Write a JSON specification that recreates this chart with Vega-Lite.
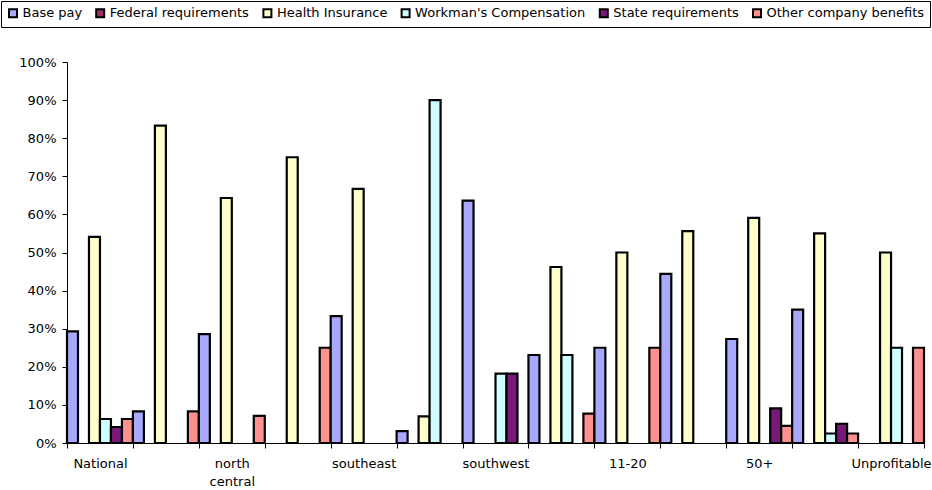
{
  "$schema": "https://vega.github.io/schema/vega-lite/v6.json",
  "width": 857,
  "height": 381,
  "autosize": {"type": "none"},
  "padding": {"left": 67, "top": 62, "right": 8, "bottom": 47},
  "background": "white",
  "config": {
    "view": {"stroke": null},
    "font": "DejaVu Sans",
    "axis": {"labelFont": "DejaVu Sans", "labelFontSize": 13, "labelColor": "#000", "domainColor": "#000", "tickColor": "#000", "grid": false, "title": null},
    "legend": {"labelFont": "DejaVu Sans"}
  },
  "data": {
    "values": [
      {"group": "National", "item": "Base pay", "share": 0.293},
      {"group": "National", "item": "Health Insurance", "share": 0.541},
      {"group": "National", "item": "Workman's Compensation", "share": 0.063},
      {"group": "National", "item": "State requirements", "share": 0.042},
      {"group": "National", "item": "Other company benefits", "share": 0.063},
      {"group": "northeast", "item": "Base pay", "share": 0.083},
      {"group": "northeast", "item": "Health Insurance", "share": 0.833},
      {"group": "northeast", "item": "Other company benefits", "share": 0.083},
      {"group": "north central", "item": "Base pay", "share": 0.286},
      {"group": "north central", "item": "Health Insurance", "share": 0.643},
      {"group": "north central", "item": "Other company benefits", "share": 0.071},
      {"group": "northwest", "item": "Health Insurance", "share": 0.75},
      {"group": "northwest", "item": "Other company benefits", "share": 0.25},
      {"group": "southeast", "item": "Base pay", "share": 0.333},
      {"group": "southeast", "item": "Health Insurance", "share": 0.667},
      {"group": "south central", "item": "Base pay", "share": 0.031},
      {"group": "south central", "item": "Health Insurance", "share": 0.07},
      {"group": "south central", "item": "Workman's Compensation", "share": 0.9},
      {"group": "southwest", "item": "Base pay", "share": 0.636},
      {"group": "southwest", "item": "Workman's Compensation", "share": 0.182},
      {"group": "southwest", "item": "State requirements", "share": 0.182},
      {"group": "1-10", "item": "Base pay", "share": 0.231},
      {"group": "1-10", "item": "Health Insurance", "share": 0.462},
      {"group": "1-10", "item": "Workman's Compensation", "share": 0.231},
      {"group": "1-10", "item": "Other company benefits", "share": 0.077},
      {"group": "11-20", "item": "Base pay", "share": 0.25},
      {"group": "11-20", "item": "Health Insurance", "share": 0.5},
      {"group": "11-20", "item": "Other company benefits", "share": 0.25},
      {"group": "21-50", "item": "Base pay", "share": 0.444},
      {"group": "21-50", "item": "Health Insurance", "share": 0.556},
      {"group": "50+", "item": "Base pay", "share": 0.273},
      {"group": "50+", "item": "Health Insurance", "share": 0.591},
      {"group": "50+", "item": "State requirements", "share": 0.091},
      {"group": "50+", "item": "Other company benefits", "share": 0.045},
      {"group": "Profitable", "item": "Base pay", "share": 0.35},
      {"group": "Profitable", "item": "Health Insurance", "share": 0.55},
      {"group": "Profitable", "item": "Workman's Compensation", "share": 0.025},
      {"group": "Profitable", "item": "State requirements", "share": 0.05},
      {"group": "Profitable", "item": "Other company benefits", "share": 0.025},
      {"group": "Unprofitable", "item": "Health Insurance", "share": 0.5},
      {"group": "Unprofitable", "item": "Workman's Compensation", "share": 0.25},
      {"group": "Unprofitable", "item": "Other company benefits", "share": 0.25}
    ]
  },
  "mark": {"type": "bar", "stroke": "#000", "strokeWidth": 2.2},
  "encoding": {
    "x": {
      "field": "group",
      "type": "nominal",
      "sort": ["National", "northeast", "north central", "northwest", "southeast", "south central", "southwest", "1-10", "11-20", "21-50", "50+", "Profitable", "Unprofitable"],
      "scale": {"paddingInner": 0, "paddingOuter": 0},
      "axis": {
        "labelAngle": 0,
        "tickBand": "extent",
        "tickSize": 5,
        "labelPadding": 9,
        "labelExpr": "indexof(['National','north central','southeast','southwest','11-20','50+','Unprofitable'], datum.label) < 0 ? '' : split(datum.label, ' ')",
        "labelLineHeight": 18
      }
    },
    "xOffset": {
      "field": "item",
      "type": "nominal",
      "scale": {"domain": ["Base pay", "Federal requirements", "Health Insurance", "Workman's Compensation", "State requirements", "Other company benefits"], "paddingInner": 0, "paddingOuter": 0}
    },
    "y": {
      "field": "share",
      "type": "quantitative",
      "scale": {"domain": [0, 1], "nice": false},
      "axis": {"format": ".0%", "values": [0, 0.1, 0.2, 0.3, 0.4, 0.5, 0.6, 0.7, 0.8, 0.9, 1], "tickSize": 5, "labelPadding": 6}
    },
    "color": {
      "field": "item",
      "type": "nominal",
      "scale": {
        "domain": ["Base pay", "Federal requirements", "Health Insurance", "Workman's Compensation", "State requirements", "Other company benefits"],
        "range": ["#A8A8FF", "#993366", "#FFFFCC", "#D0FFFF", "#781878", "#FF9090"]
      },
      "legend": {
        "title": null,
        "orient": "none",
        "legendX": -66,
        "legendY": -61,
        "direction": "horizontal",
        "columns": 6,
        "symbolType": "square",
        "symbolSize": 64,
        "symbolStrokeColor": "#000",
        "symbolStrokeWidth": 2,
        "labelFontSize": 13,
        "labelLimit": 0,
        "labelColor": "#000",
        "labelOffset": 3,
        "columnPadding": 9.2,
        "strokeColor": "#000",
        "fillColor": "#fff",
        "padding": 5.5
      }
    }
  }
}
